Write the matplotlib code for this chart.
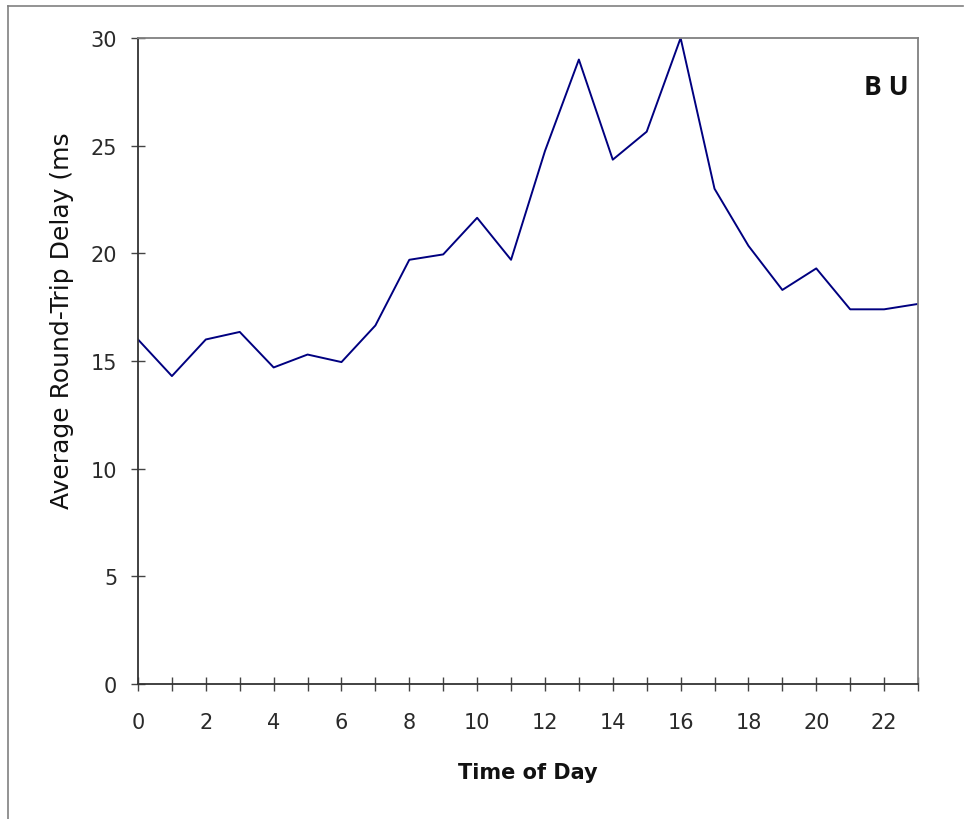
import matplotlib
matplotlib.use("Agg")
import matplotlib.pyplot as plt
from matplotlib.lines import Line2D

plt.rcParams['font.family'] = ['DejaVu Sans']

# average round-trip delay per hour
hours = list(range(24))
delay = [16.0, 14.3, 16.0, 16.35, 14.7, 15.3, 14.95, 16.65, 19.7, 19.95, 21.65, 19.7,
         24.75, 29.0, 24.35, 25.65, 30.0, 23.0, 20.35, 18.3, 19.3, 17.4, 17.4, 17.65]
y_ticks = [0, 5, 10, 15, 20, 25, 30]
x_ticks = list(range(0, 24, 2))

fig = plt.figure(figsize=(9.64, 8.2), dpi=100)
ax = fig.add_axes([138 / 964, 135 / 820, 780 / 964, 646 / 820])

ax.plot(hours, delay, color='#000080', lw=1.4)

ax.set_xlim(0, 23)
ax.set_ylim(0, 30)
ax.set_yticks(y_ticks)
ax.set_xticks(x_ticks)
ax.set_xticks([h for h in range(1, 24, 2)], minor=True)

for s in ['left', 'bottom']:
    ax.spines[s].set_color('#333333')
    ax.spines[s].set_linewidth(1.3)
for s in ['top', 'right']:
    ax.spines[s].set_color('#808080')
    ax.spines[s].set_linewidth(1.3)

ax.tick_params(axis='both', which='both', direction='inout', length=10, width=1,
               color='#444444', labelsize=15, labelcolor='#2a2a2a')
ax.tick_params(axis='y', pad=10)
ax.tick_params(axis='x', pad=15)

# y label sits above the axes centre (its text is cut short in the original)
ax.text((62 - 138) / 780, (685 - 321) / 646, 'Average Round-Trip Delay (ms',
        transform=ax.transAxes, rotation=90, ha='center', va='center',
        fontsize=18, color='#111111')
ax.text(0.5, -0.136, 'Time of Day', transform=ax.transAxes, ha='center', va='center',
        fontsize=15, fontweight='bold', color='#111111')
ax.text((886 - 138) / 780, (685 - 88) / 646, 'B U', transform=ax.transAxes,
        ha='center', va='center', fontsize=19, fontweight='bold', color='#111111',
        family='Open Sans')

# outer frame (top and left edges only visible)
fig.add_artist(Line2D([8 / 964, 963 / 964], [1 - 7 / 820, 1 - 7 / 820],
                      transform=fig.transFigure, color='#808080', lw=1.2))
fig.add_artist(Line2D([8 / 964, 8 / 964], [0, 1 - 7 / 820],
                      transform=fig.transFigure, color='#808080', lw=1.2))

fig.savefig('out.png', dpi=100)
